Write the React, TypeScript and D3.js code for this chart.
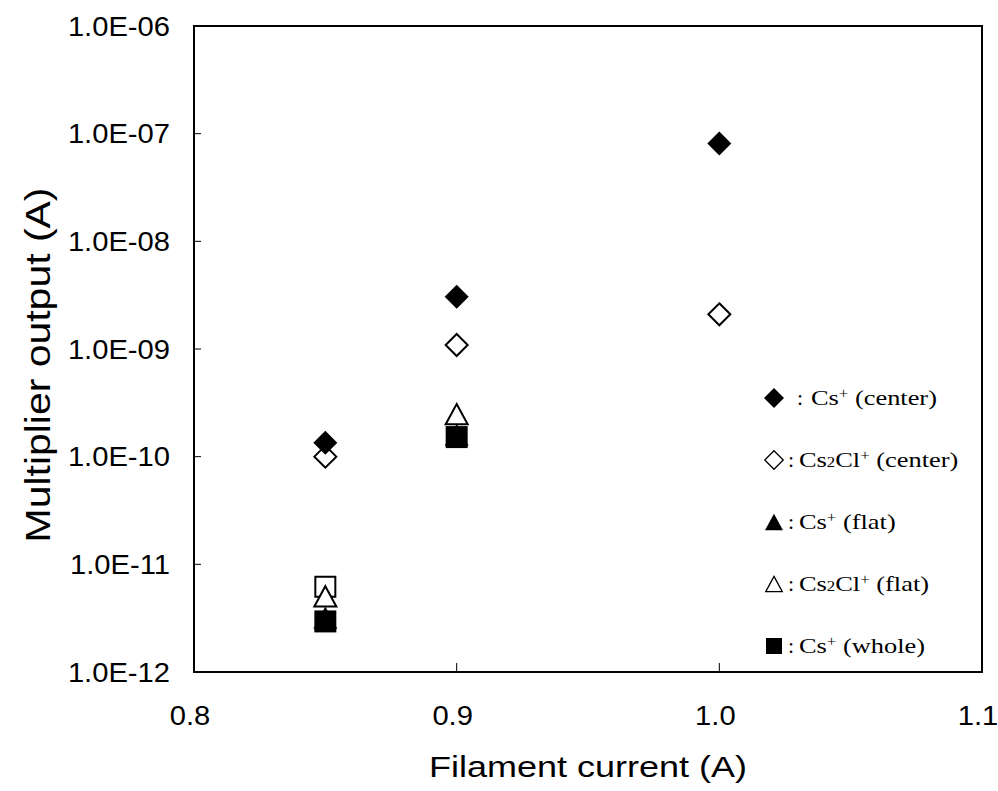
import React from "react";
import * as d3 from "d3";

// ---- data ----
const currents = [0.85, 0.9, 1.0];
const csCenter = [1.35e-10, 3.05e-9, 8.1e-8];
const cs2clCenter = [1.0e-10, 1.09e-9, 2.1e-9];
const csFlat = [3.2e-12, 1.6e-10, null];
const cs2clFlat = [5.05e-12, 2.48e-10, null];
const csWhole = [2.95e-12, 1.52e-10, null];
const cs2clWhole = [6.18e-12, null, null]; // open square, not in legend

const xTicks = [0.8, 0.9, 1.0, 1.1];
const xTickLabels = ["0.8", "0.9", "1.0", "1.1"];
const yTicks = [1e-12, 1e-11, 1e-10, 1e-9, 1e-8, 1e-7, 1e-6];
const yTickLabels = ["1.0E-12", "1.0E-11", "1.0E-10", "1.0E-09", "1.0E-08", "1.0E-07", "1.0E-06"];

type Shape = "diamond" | "triangle" | "square";
const series: { values: (number | null)[]; shape: Shape; filled: boolean }[] = [
  { values: cs2clCenter, shape: "diamond", filled: false },
  { values: csCenter, shape: "diamond", filled: true },
  { values: cs2clWhole, shape: "square", filled: false },
  { values: csFlat, shape: "triangle", filled: true },
  { values: cs2clFlat, shape: "triangle", filled: false },
  { values: csWhole, shape: "square", filled: true },
];

const legendItems: { shape: Shape; filled: boolean; base: string; sub?: string; mid?: string; tail: string }[] = [
  { shape: "diamond", filled: true, base: "Cs", tail: " (center)" },
  { shape: "diamond", filled: false, base: "Cs", sub: "2", mid: "Cl", tail: " (center)" },
  { shape: "triangle", filled: true, base: "Cs", tail: " (flat)" },
  { shape: "triangle", filled: false, base: "Cs", sub: "2", mid: "Cl", tail: " (flat)" },
  { shape: "square", filled: true, base: "Cs", tail: " (whole)" },
];

function markerPath(shape: Shape, s: number): string {
  const h = s / 2;
  if (shape === "diamond") return `M0,${-h}L${h},0L0,${h}L${-h},0Z`;
  if (shape === "triangle") {
    const hh = h * 0.92;
    return `M0,${-hh}L${h},${hh}L${-h},${hh}Z`;
  }
  return `M${-h},${-h}H${h}V${h}H${-h}Z`;
}

const markerSize: Record<Shape, number> = { diamond: 24, triangle: 24, square: 22 };
const legendSize: Record<Shape, number> = { diamond: 20, triangle: 18, square: 16 };

export default function App() {
  const W = 998, H = 791;
  const left = 194, right = 982, top = 26, bottom = 672;
  const x = d3.scaleLinear().domain([0.8, 1.1]).range([left, right]);
  const y = d3.scaleLog().domain([1e-12, 1e-6]).range([bottom, top]);
  const sans = "'Liberation Sans', Arial, sans-serif";
  const serif = "'Liberation Serif', 'Times New Roman', serif";

  const legendX = 774;
  const legendY0 = 398;
  const legendStep = 62;

  return (
    <svg width={W} height={H} style={{ position: "absolute", left: 0, top: 0, background: "#fff" }}>
      <rect x={0} y={0} width={W} height={H} fill="#fff" />
      {/* ticks */}
      {yTicks.map((t, i) => (
        <g key={"y" + i}>
          <line x1={left} x2={left + 7} y1={y(t)} y2={y(t)} stroke="#000" strokeWidth={1} />
          <text
            transform={`translate(170,${y(t) + 9.7}) scale(1.08,1)`}
            textAnchor="end"
            fontFamily={sans}
            fontSize={27}
            fill="#000"
          >
            {yTickLabels[i]}
          </text>
        </g>
      ))}
      {xTicks.map((t, i) => (
        <g key={"x" + i}>
          <line x1={x(t)} x2={x(t)} y1={bottom} y2={bottom - 9} stroke="#000" strokeWidth={1} />
          <text
            transform={`translate(${x(t) - 4},725) scale(1.08,1)`}
            textAnchor="middle"
            fontFamily={sans}
            fontSize={27}
            fill="#000"
          >
            {xTickLabels[i]}
          </text>
        </g>
      ))}
      {/* frame */}
      <rect x={left} y={top} width={right - left} height={bottom - top} fill="none" stroke="#000" strokeWidth={2} />

      {/* axis titles */}
      <text
        transform={`translate(588,777) scale(1.2,1)`}
        textAnchor="middle"
        fontFamily={sans}
        fontSize={30}
        fill="#000"
      >
        Filament current (A)
      </text>
      <text
        transform={`translate(50,365) rotate(-90) scale(1.17,1)`}
        textAnchor="middle"
        fontFamily={sans}
        fontSize={35}
        fill="#000"
      >
        Multiplier output (A)
      </text>

      {/* data */}
      {series.map((s, si) =>
        s.values.map((v, i) =>
          v == null ? null : (
            <path
              key={`p${si}-${i}`}
              d={markerPath(s.shape, markerSize[s.shape] - (s.filled ? 0 : 2))}
              transform={`translate(${x(currents[i])},${y(v)})`}
              fill={s.filled ? "#000" : "#fff"}
              stroke="#000"
              strokeWidth={s.filled ? 0 : 2}
            />
          )
        )
      )}

      {/* legend */}
      {legendItems.map((it, i) => {
        const cy = legendY0 + i * legendStep;
        const textX = i === 0 ? 811 : 799;
        const colonX = i === 0 ? 797 : 788;
        return (
          <g key={"l" + i}>
            <path
              d={markerPath(it.shape, legendSize[it.shape] - (it.filled ? 0 : 1.5))}
              transform={`translate(${legendX},${cy})`}
              fill={it.filled ? "#000" : "#fff"}
              stroke="#000"
              strokeWidth={it.filled ? 0 : 1.3}
            />
            <text x={colonX} y={cy + 7} fontFamily={serif} fontSize={22} fill="#000">:</text>
            <text
              transform={`translate(${textX},${cy + 7}) scale(1.2,1)`}
              fontFamily={serif}
              fontSize={22}
              fill="#000"
            >
              {it.base}
              {it.sub ? (
                <tspan fontSize={14} dy={0}>{it.sub}</tspan>
              ) : null}
              {it.mid ? <tspan>{it.mid}</tspan> : null}
              <tspan fontSize={14} dy={-7}>+</tspan>
              <tspan dy={7}>{it.tail}</tspan>
            </text>
          </g>
        );
      })}
    </svg>
  );
}
